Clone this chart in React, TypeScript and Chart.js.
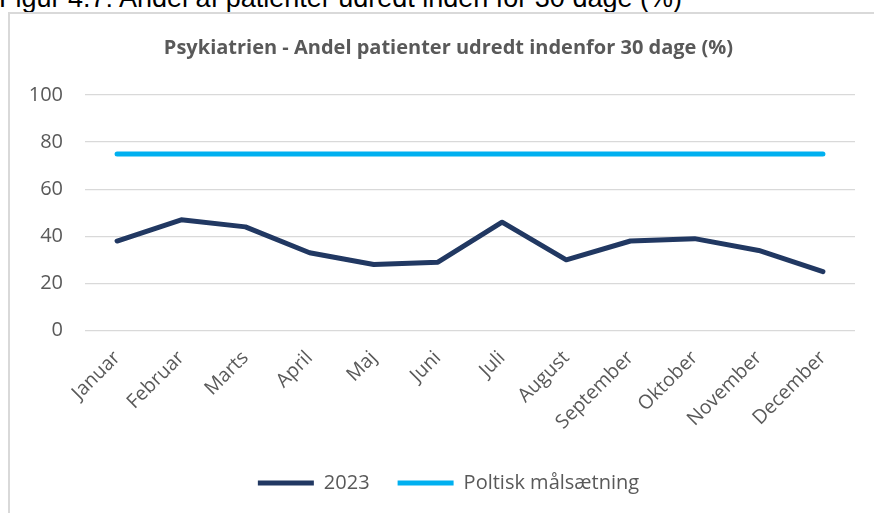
import React, { useEffect, useRef } from "react";
import { Chart, registerables } from "chart.js";

Chart.register(...registerables);

const caption = "Figur 4.7: Andel af patienter udredt inden for 30 dage (%)";
const chartTitle = "Psykiatrien - Andel patienter udredt indenfor 30 dage (%)";
const months = [
  "Januar", "Februar", "Marts", "April", "Maj", "Juni",
  "Juli", "August", "September", "Oktober", "November", "December",
];
const series2023Label = "2023";
const series2023 = [38, 47, 44, 33, 28, 29, 46, 30, 38, 39, 34, 25];
const targetLabel = "Poltisk målsætning";
const targetValues = [75, 75, 75, 75, 75, 75, 75, 75, 75, 75, 75, 75];
const yMin = 0;
const yMax = 100;
const yStep = 20;

export default function App() {
  const canvasRef = useRef<HTMLCanvasElement | null>(null);

  useEffect(() => {
    if (!canvasRef.current) return;
    const gray = "#595959";
    const chart = new Chart(canvasRef.current, {
      type: "line",
      data: {
        labels: months,
        datasets: [
          {
            label: series2023Label,
            data: series2023,
            borderColor: "#213862",
            backgroundColor: "#213862",
            borderWidth: 5,
            borderCapStyle: "round",
            borderJoinStyle: "round",
            pointRadius: 0,
            pointHoverRadius: 0,
            pointStyle: "line",
            tension: 0,
          },
          {
            label: targetLabel,
            data: targetValues,
            borderColor: "#00B0F0",
            backgroundColor: "#00B0F0",
            borderWidth: 5,
            borderCapStyle: "round",
            borderJoinStyle: "round",
            pointRadius: 0,
            pointHoverRadius: 0,
            pointStyle: "line",
            tension: 0,
          },
        ],
      },
      options: {
        responsive: false,
        animation: false,
        layout: { padding: { top: 0, left: 0, right: 0, bottom: 10 } },
        scales: {
          x: {
            offset: true,
            grid: { display: false },
            border: { display: false },
            ticks: {
              color: gray,
              font: { family: "'Open Sans'", size: 19.5 },
              maxRotation: 45,
              minRotation: 45,
              autoSkip: false,
              padding: 8,
            },
            afterFit: (s: any) => {
              s.height = 114.5;
            },
          },
          y: {
            min: yMin,
            max: yMax,
            grid: { color: "#d9d9d9", lineWidth: 1.3, drawTicks: false },
            border: { display: false },
            ticks: {
              stepSize: yStep,
              color: gray,
              font: { family: "'Open Sans'", size: 20 },
              padding: 22,
            },
            afterFit: (s: any) => {
              s.width = 75;
            },
          },
          y2: {
            position: "right",
            display: true,
            grid: { display: false },
            border: { display: false },
            ticks: { display: false },
            afterFit: (s: any) => {
              s.width = 32;
            },
          },
        },
        plugins: {
          title: {
            display: true,
            text: chartTitle,
            color: gray,
            font: { family: "'Open Sans'", size: 20, weight: "bold" },
            padding: { top: 22, bottom: 35 },
          },
          legend: {
            position: "bottom",
            labels: {
              color: gray,
              font: { family: "'Open Sans'", size: 20 },
              usePointStyle: true,
              pointStyleWidth: 56,
              padding: 28,
            },
          },
          tooltip: { enabled: false },
        },
      },
    });
    return () => chart.destroy();
  }, []);

  return (
    <div
      style={{
        position: "fixed",
        left: 0,
        top: 0,
        width: 874,
        height: 513,
        overflow: "hidden",
        background: "#ffffff",
      }}
    >
      <div
        style={{
          position: "absolute",
          left: -1,
          top: -15,
          fontFamily: "Arial, 'Liberation Sans', sans-serif",
          fontSize: 27,
          lineHeight: "27px",
          color: "#000000",
          whiteSpace: "nowrap",
        }}
      >
        {caption}
      </div>
      <div
        style={{
          position: "absolute",
          left: 8,
          top: 12,
          width: 880,
          height: 510,
          borderLeft: "2px solid #d9d9d9",
          borderTop: "2px solid #d9d9d9",
        }}
      >
        <canvas ref={canvasRef} width={877} height={499} style={{ display: "block" }} />
      </div>
    </div>
  );
}
